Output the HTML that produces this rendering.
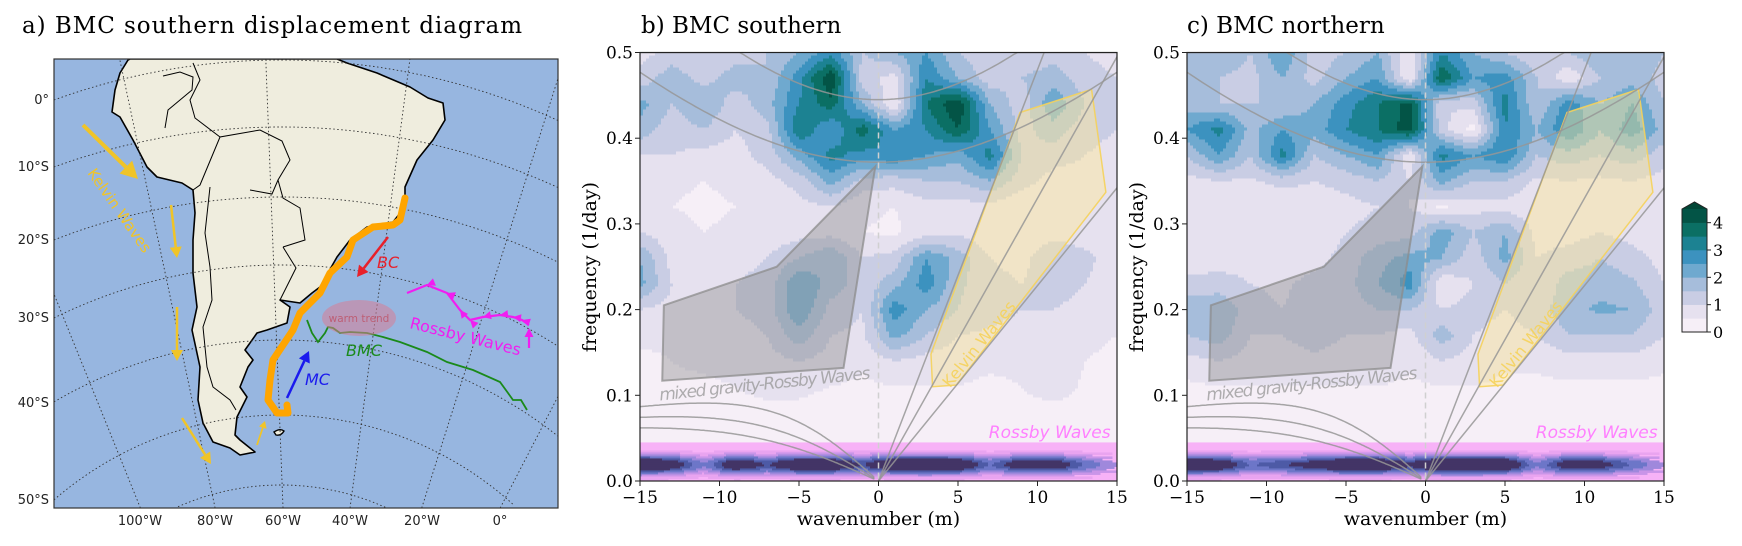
<!DOCTYPE html>
<html><head><meta charset="utf-8"><style>
html,body{margin:0;padding:0;background:#fff;width:1742px;height:546px;overflow:hidden;}
svg{display:block;}
.serif{font-family:"DejaVu Serif","Liberation Serif",serif;}
.sans{font-family:"DejaVu Sans","Liberation Sans",sans-serif;}
</style></head><body>
<svg id="fig" width="1742" height="546" viewBox="0 0 1742 546" xmlns="http://www.w3.org/2000/svg">
<defs>
<clipPath id="mapclip"><rect x="54" y="59" width="504" height="449"/></clipPath>
<clipPath id="clipb"><rect x="640" y="52" width="477" height="429"/></clipPath>
<clipPath id="clipc"><rect x="1187" y="52" width="477" height="429"/></clipPath>
</defs>
<text class="serif" x="22" y="33" font-size="23" textLength="500">a) BMC southern displacement diagram</text>
<text class="serif" x="641" y="33" font-size="23">b) BMC southern</text>
<text class="serif" x="1187" y="33" font-size="23">c) BMC northern</text>
<g id="map"></g>
<g id="pb"></g>
<g id="pc"></g>
<g id="cbar"></g>
</svg>
<script>
// ---------- DATA ----------
const wavenumbers = [-15,-13,-11,-9,-7,-5,-3,-1,1,3,5,7,9,11,13,15];
const frequencies = [0.50,0.47,0.44,0.41,0.38,0.35,0.32,0.29,0.26,0.23,0.20,0.17,0.14,0.11,0.08,0.05];
const powerSouth = [
[0.8,1.2,1.0,1.2,1.5,2.0,2.8,1.5,2.0,2.5,1.5,1.2,1.0,1.3,1.0,0.8],
[1.2,1.8,1.3,1.8,1.5,2.8,4.5,1.2,0.8,3.0,2.0,1.2,1.5,1.8,1.2,1.0],
[2.2,1.5,2.0,1.2,1.8,3.0,3.8,2.0,0.5,3.5,4.5,2.0,1.2,2.4,1.5,1.2],
[1.8,1.2,1.5,1.0,1.3,3.5,2.5,3.8,2.5,3.0,4.0,2.5,1.3,1.8,1.2,1.0],
[1.0,1.0,0.8,0.8,1.2,2.2,3.2,2.8,3.0,2.5,2.2,3.2,1.5,1.2,1.0,0.8],
[0.8,0.6,0.5,0.6,0.8,1.2,2.2,1.3,1.2,1.5,1.5,2.0,1.2,0.8,0.8,0.6],
[0.7,0.5,0.4,0.5,0.6,0.8,1.0,0.6,0.5,0.8,0.8,0.8,0.6,0.5,0.6,0.5],
[1.0,0.7,0.5,0.6,0.7,0.8,0.8,0.5,0.4,0.8,0.9,0.6,0.5,0.8,0.6,0.5],
[2.0,0.8,0.6,0.8,1.0,1.5,2.0,1.0,1.2,2.5,1.8,1.0,0.8,1.5,1.2,0.6],
[2.2,1.0,0.8,1.0,1.2,2.5,1.8,1.2,1.8,2.8,1.6,1.2,1.0,1.3,1.0,0.6],
[1.0,0.8,0.8,1.0,1.2,2.5,1.3,1.0,2.8,2.0,1.5,1.2,1.0,1.0,0.8,0.5],
[0.6,0.6,0.7,0.8,1.0,1.8,1.0,0.9,2.2,1.5,1.0,0.9,0.8,0.8,0.6,0.5],
[0.4,0.5,0.6,0.7,0.8,1.0,0.8,0.6,1.0,0.8,0.7,0.6,0.6,0.9,0.5,0.4],
[0.3,0.4,0.4,0.5,0.6,0.6,0.5,0.4,0.5,0.5,0.5,0.4,0.5,0.8,0.4,0.3],
[0.3,0.3,0.3,0.4,0.4,0.4,0.3,0.3,0.3,0.3,0.3,0.3,0.3,0.3,0.3,0.3],
[0.2,0.2,0.2,0.2,0.2,0.2,0.2,0.2,0.2,0.2,0.2,0.2,0.2,0.2,0.2,0.2]];
const powerNorth = [
[2.0,2.0,1.5,2.5,1.2,1.5,2.0,0.5,3.0,2.0,1.5,1.0,1.5,2.0,2.0,1.5],
[1.5,1.5,1.3,2.0,1.3,2.0,2.5,0.5,4.0,2.5,2.8,1.5,0.6,1.5,1.8,1.3],
[1.8,1.5,1.5,1.5,2.0,2.8,3.5,4.2,1.0,1.2,3.2,1.5,2.8,2.0,2.5,1.5],
[2.5,3.2,1.8,2.5,2.2,3.0,3.5,4.3,1.2,0.3,3.0,2.0,3.0,2.0,2.8,1.8],
[1.5,2.5,1.5,3.2,1.5,2.0,2.5,0.6,3.2,2.5,3.0,1.5,1.8,1.5,1.8,1.2],
[0.8,1.0,0.9,1.2,1.0,1.2,1.5,1.0,2.2,1.5,1.5,0.9,1.0,0.9,1.0,0.8],
[0.6,0.7,0.5,0.5,0.6,0.8,1.0,1.0,0.4,0.8,0.8,0.6,0.7,0.8,0.7,0.5],
[0.5,0.8,0.6,0.5,0.6,1.0,1.2,1.3,2.3,1.5,2.0,0.8,0.8,1.0,0.8,0.6],
[0.6,0.8,0.8,0.6,0.8,1.2,1.8,2.2,2.0,1.2,2.2,1.0,1.2,1.5,1.2,0.8],
[1.2,1.2,1.0,0.9,1.2,1.3,2.0,2.8,0.5,1.0,1.5,1.0,1.8,1.8,1.6,1.0],
[1.8,2.0,1.2,1.0,1.3,1.2,1.5,1.5,1.0,1.2,1.0,1.3,1.8,2.1,2.0,1.2],
[1.5,1.8,1.0,1.0,1.2,1.0,1.0,0.8,1.8,1.0,0.8,1.0,1.5,1.5,1.5,1.0],
[0.8,1.0,0.8,0.8,0.9,0.8,0.8,0.6,1.0,0.8,0.6,0.6,0.8,0.8,0.8,0.6],
[0.4,0.5,0.5,0.5,0.5,0.5,0.5,0.4,0.5,0.5,0.4,0.4,0.4,0.4,0.4,0.4],
[0.3,0.3,0.3,0.3,0.3,0.3,0.3,0.3,0.3,0.3,0.3,0.3,0.3,0.3,0.3,0.3],
[0.2,0.2,0.2,0.2,0.2,0.2,0.2,0.2,0.2,0.2,0.2,0.2,0.2,0.2,0.2,0.2]];
const lowBandSouth = [4.5,3.8,2.0,4.0,3.0,4.2,4.2,3.0,4.3,4.5,4.2,2.5,3.8,3.8,2.5,1.5];
const lowBandNorth = [4.2,4.0,2.5,3.0,3.5,4.3,4.3,3.2,4.5,4.5,4.3,2.0,3.8,3.5,2.5,1.5];
const mrgPolyK = [-13.5,-6.4,-0.2,-2.2,-13.6];
const mrgPolyF = [0.205,0.25,0.367,0.132,0.117];
const kelvinPolyK = [8.9,13.4,14.3,4.9,3.4,3.3];
const kelvinPolyF = [0.43,0.457,0.337,0.112,0.11,0.148];
const kelvinSlopes = [0.048,0.033,0.0228];
const igMinFreq = [0.445,0.372];
const igEdgeK = [8.7,15];
const igEdgeF = [0.5,0.477];
const rossbyA = [2.0,1.95,1.86];
const rossbyB = [121,169,225];
const xTicks = [-15,-10,-5,0,5,10,15];
const yTicks = [0,0.1,0.2,0.3,0.4,0.5];
const levelColors = ['#f6eff7','#e6e1ef','#c9cde4','#a6bddb','#6fa9cf','#3c92bf','#1c8292','#0b6f64','#035446','#014636'];
const cbarTicks = [0,1,2,3,4];

const NS='http://www.w3.org/2000/svg';
function el(tag, attrs, parent){const e=document.createElementNS(NS,tag);for(const k in attrs)e.setAttribute(k,attrs[k]);if(parent)parent.appendChild(e);return e;}

// ---------- SPECTRAL PANELS ----------
const W=477, yBot=481, yTop=52.5;
function ys(f){return yBot-(f/0.5)*(yBot-yTop);}
function interpGrid(grid,k,f){
  let cj=(k-wavenumbers[0])/(wavenumbers[1]-wavenumbers[0]);
  let ri=(frequencies[0]-f)/(frequencies[0]-frequencies[1]);
  cj=Math.max(0,Math.min(wavenumbers.length-1,cj));ri=Math.max(0,Math.min(frequencies.length-1,ri));
  const j0=Math.min(Math.floor(cj),wavenumbers.length-2),i0=Math.min(Math.floor(ri),frequencies.length-2);
  const tx=cj-j0,ty=ri-i0;
  const a=grid[i0][j0],b=grid[i0][j0+1],c=grid[i0+1][j0],d=grid[i0+1][j0+1];
  return (a*(1-tx)+b*tx)*(1-ty)+(c*(1-tx)+d*tx)*ty;
}
function interpRow(row,k){
  let cj=(k-wavenumbers[0])/(wavenumbers[1]-wavenumbers[0]);
  cj=Math.max(0,Math.min(row.length-1,cj));
  const j0=Math.min(Math.floor(cj),row.length-2),t=cj-j0;
  return row[j0]*(1-t)+row[j0+1]*t;
}
function lowColor(v){
  if(v<0.5)return '#f7b2f7';if(v<1.0)return '#e9a4f0';if(v<1.5)return '#c995e8';
  if(v<2.0)return '#9f88dc';if(v<2.6)return '#6d76c8';if(v<3.1)return '#4d5aa6';return '#433466';
}
function drawPanel(g,x0,grid,lowB,clipId,showYLabels,tag){
  const xs=k=>x0+(k+15)/30*W;
  const fieldG=el('g',{'clip-path':'url(#'+clipId+')'},g);
  
  
  const step=3;
  for(let y=yTop;y<ys(0.045);y+=step){
    const f=(yBot-(y+step/2))/(yBot-yTop)*0.5;
    let runStart=x0,runCol=null;
    for(let x=x0;x<x0+W;x+=step){
      const k=((x+step/2)-x0)/W*30-15;
      const v=interpGrid(grid,k,f);
      const col=levelColors[Math.max(0,Math.min(9,Math.floor(v/0.5)))];
      if(col!==runCol){
        if(runCol){const r=el('rect',{x:runStart,y:y,width:x-runStart+0.6,height:step+0.6,fill:runCol},fieldG);
          
          }
        runStart=x;runCol=col;
      }
    }
    const r=el('rect',{x:runStart,y:y,width:x0+W-runStart,height:step+0.6,fill:runCol},fieldG);
    
    
  }
  const lowG=el('g',{'clip-path':'url(#'+clipId+')'},g);
  
  
  el('rect',{x:x0,y:ys(0.045),width:W,height:ys(0)-ys(0.045),fill:'#f7b2f7'},lowG);
  for(let y=ys(0.045);y<yBot-1;y+=2){
    const f=(yBot-(y+1))/(yBot-yTop)*0.5;
    let runStart=x0,runCol=null;
    for(let x=x0;x<x0+W;x+=2){
      const k=((x+1)-x0)/W*30-15;
      const v=interpRow(lowB,k)*Math.exp(-Math.pow((f-0.019)/0.012,2));
      const col=lowColor(v);
      if(col!==runCol){
        if(runCol&&runCol!=='#f7b2f7'){const r=el('rect',{x:runStart,y:y,width:x-runStart+0.5,height:2.5,fill:runCol},lowG);
          
          }
        runStart=x;runCol=col;
      }
    }
  }
  const ov=el('g',{'clip-path':'url(#'+clipId+')'},g);
  const mp=el('polygon',{points:mrgPolyK.map((k,i)=>xs(k)+','+ys(mrgPolyF[i])).join(' '),fill:'rgba(150,150,150,0.45)',stroke:'rgba(140,140,140,0.75)','stroke-width':2},ov);
  
  
  const kp=el('polygon',{points:kelvinPolyK.map((k,i)=>xs(k)+','+ys(kelvinPolyF[i])).join(' '),fill:'rgba(255,232,150,0.45)',stroke:'rgba(245,210,90,0.9)','stroke-width':1.5},ov);
  
  
  const lc='rgba(150,150,150,0.85)';
  igMinFreq.forEach((f0,i)=>{
    const a=(igEdgeF[i]*igEdgeF[i]-f0*f0)/(igEdgeK[i]*igEdgeK[i]);
    let d='';for(let k=-15;k<=15.01;k+=0.25){const f=Math.min(0.5,Math.sqrt(f0*f0+a*k*k));d+=(d?'L':'M')+xs(k).toFixed(1)+','+ys(f).toFixed(1);}
    const p=el('path',{d:d,fill:'none',stroke:lc,'stroke-width':1.5},ov);
    
    
  });
  kelvinSlopes.forEach(s=>{
    const kEnd=Math.min(15,0.5/s);
    const p=el('line',{x1:xs(0),y1:ys(0),x2:xs(kEnd),y2:ys(kEnd*s),stroke:lc,'stroke-width':1.5},ov);
    
    
  });
  rossbyA.forEach((A,i)=>{
    let d='';for(let k=-15;k<=-0.3;k+=0.1){const f=-A*k/(k*k+rossbyB[i]);d+=(d?'L':'M')+xs(k).toFixed(1)+','+ys(f).toFixed(1);}
    d+='L'+xs(-0.3).toFixed(1)+','+ys(0.002).toFixed(1);
    const p=el('path',{d:d,fill:'none',stroke:lc,'stroke-width':1.5},ov);
    
    
  });
  const dl=el('line',{x1:xs(0),y1:yTop,x2:xs(0),y2:yBot,stroke:'#d0d0d0','stroke-width':1.5,'stroke-dasharray':'6,4'},ov);
  
  
  const t1=el('text',{x:xs(-13.75),y:ys(0.094),'font-size':17,'font-style':'italic',fill:'rgba(150,150,150,0.75)','class':'sans',textLength:212,transform:'rotate(-5.9 '+xs(-13.75)+' '+ys(0.094)+')'},ov);
  t1.textContent='mixed gravity-Rossby Waves';
  
  
  const kx=xs(4.5),ky=ys(0.108);
  const t2=el('text',{x:kx,y:ky,'font-size':16,fill:'rgba(245,210,90,0.9)','class':'sans',transform:'rotate(-51 '+kx+' '+ky+')'},ov);
  t2.textContent='Kelvin Waves';
  
  
  const t3=el('text',{x:xs(14.6),y:438,'font-size':17,'font-style':'italic',fill:'#ff80ff','class':'sans','text-anchor':'end'},ov);
  t3.textContent='Rossby Waves';
  
  
  el('rect',{x:x0,y:yTop,width:W,height:yBot-yTop,fill:'none',stroke:'#222','stroke-width':1.2},g);
  xTicks.forEach(k=>{
    el('line',{x1:xs(k),y1:yBot,x2:xs(k),y2:yBot+5,stroke:'#222'},g);
    const t=el('text',{x:xs(k),y:503,'font-size':17,'text-anchor':'middle','class':'serif'},g);
    t.textContent=(k<0?'\u2212'+(-k):''+k);
    
    
  });
  yTicks.forEach(f=>{
    el('line',{x1:x0,y1:ys(f),x2:x0-5,y2:ys(f),stroke:'#222'},g);
    if(showYLabels){const t=el('text',{x:x0-7,y:ys(f)+6,'font-size':17,'text-anchor':'end','class':'serif'},g);
      t.textContent=f.toFixed(1);
      
      }
  });
  const xl=el('text',{x:x0+W/2,y:525,'font-size':19,'text-anchor':'middle','class':'serif'},g);
  xl.textContent='wavenumber (m)';
  
  
  const yl=el('text',{x:0,y:0,'font-size':19,'text-anchor':'middle','class':'serif',transform:'translate('+(x0-44)+',267) rotate(-90)'},g);
  yl.textContent='frequency (1/day)';
  
  
}
drawPanel(document.getElementById('pb'),640,powerSouth,lowBandSouth,'clipb',true,'southern');
drawPanel(document.getElementById('pc'),1187,powerNorth,lowBandNorth,'clipc',true,'northern');

// ---------- COLORBAR ----------
(function(){
  const g=document.getElementById('cbar');
  const cx=1682,cw=25,cTop=209,cBot=332,vmax=4.5;
  const cy=v=>cBot-(v/vmax)*(cBot-cTop);
  for(let i=0;i<9;i++){
    const r=el('rect',{x:cx,y:cy((i+1)*0.5),width:cw,height:cy(i*0.5)-cy((i+1)*0.5)+0.3,fill:levelColors[i]},g);
    
    
  }
  el('polygon',{points:`${cx},${cTop} ${cx+cw/2},${cTop-7} ${cx+cw},${cTop}`,fill:levelColors[9]},g);
  el('polygon',{points:`${cx},${cTop} ${cx},${cBot} ${cx+cw},${cBot} ${cx+cw},${cTop} ${cx+cw/2},${cTop-7}`,fill:'none',stroke:'#222','stroke-width':1},g);
  cbarTicks.forEach(v=>{
    el('line',{x1:cx+cw,y1:cy(v),x2:cx+cw+4,y2:cy(v),stroke:'#222'},g);
    const t=el('text',{x:cx+cw+6,y:cy(v)+6,'font-size':16,'class':'serif'},g);
    t.textContent=v;
    
    
  });
})();

// ---------- MAP ----------
(function(){
  const g=document.getElementById('map');
  const cg=el('g',{'clip-path':'url(#mapclip)'},g);
  el('rect',{x:54,y:59,width:504,height:449,fill:'#97b6e0'},cg);
  const land=[[128,60],[120,73],[115,90],[112,112],[120,117],[133,140],[147,167],[157,177],[182,183],[193,190],[195,213],[193,240],[193,273],[197,307],[192,330],[200,367],[198,400],[203,423],[213,442],[230,448],[240,455],[255,452],[240,440],[235,435],[237,417],[247,397],[240,387],[248,367],[253,360],[245,350],[257,333],[267,330],[287,323],[290,307],[280,300],[300,303],[312,293],[320,287],[337,257],[350,240],[367,227],[393,222],[405,207],[405,187],[417,160],[433,140],[445,120],[443,103],[428,98],[410,87],[377,73],[347,63],[337,59],[130,59]];
  const lp=el('polygon',{points:land.map(p=>p.join(',')).join(' '),fill:'#efedde',stroke:'#000','stroke-width':1.6,'stroke-linejoin':'round'},cg);
  
  
  el('path',{d:'M274,432 q6,-4 10,-1 q-3,5 -8,4 z',fill:'#efedde',stroke:'#000','stroke-width':1.4},cg);
  const borders=['M210,187 L205,233 L210,267 L212,300 L203,327 L207,367 L213,387 L230,400 L236,410',
    'M163,76 L180,72 L193,77 L192,90 L168,110 L165,128',
    'M193,190 L200,185 L220,137 L260,130 L282,141 L290,160 L278,180 L283,198 L300,208 L305,240 L283,247',
    'M220,137 L195,118 L190,100 L200,80 L193,63',
    'M250,190 L272,194 L278,180',
    'M283,247 L296,268 L280,300'];
  borders.forEach(d=>{const b=el('path',{d:d,fill:'none',stroke:'#000','stroke-width':1},cg);
    
    });
  const lats=[[724,664],[791,664],[818,621],[778,513],[787,447],[761,346],[740,255]];
  lats.forEach(c=>{
    const pts=[];
    for(let x=54;x<=558;x+=4){const dx=x-281;if(Math.abs(dx)>c[1])continue;const y=c[0]-Math.sqrt(c[1]*c[1]-dx*dx);if(y>=59&&y<=508)pts.push(x+','+y.toFixed(1));}
    if(pts.length<2)return;
    const e=el('polyline',{points:pts.join(' '),fill:'none',stroke:'#333','stroke-width':0.9,'stroke-dasharray':'1.5,2.5'},cg);
    
    });
  [-32,-22,-12,-2.2,7.6,17.6,27.4,37.3].forEach(a=>{const t=Math.tan(a*Math.PI/180);
    const xb=298+t*(898-508),xt=298+t*(898-59);
    const e=el('line',{x1:xb,y1:508,x2:xt,y2:59,stroke:'#333','stroke-width':0.9,'stroke-dasharray':'1.5,2.5'},cg);
    
    });
  function arrow(x1,y1,x2,y2,col,w,hl,hw,name){
    const a=Math.atan2(y2-y1,x2-x1),bx=x2-hl*Math.cos(a),by=y2-hl*Math.sin(a);
    const gg=el('g',{},cg);
    
    
    el('line',{x1:x1,y1:y1,x2:bx,y2:by,stroke:col,'stroke-width':w},gg);
    el('polygon',{points:`${x2},${y2} ${bx-hw*Math.sin(a)},${by+hw*Math.cos(a)} ${bx+hw*Math.sin(a)},${by-hw*Math.cos(a)}`,fill:col},gg);
  }
  const gold='#f0c428';
  arrow(83,125,138,179,gold,4,17,9,'kelvin-arrow');
  arrow(171,205,177,258,gold,2.5,11,6,'kelvin-arrow');
  arrow(177,307,177,361,gold,2.5,11,6,'kelvin-arrow');
  arrow(182,418,211,464,gold,2.5,11,6,'kelvin-arrow');
  arrow(257,445,265,421,gold,1.8,7,4,'kelvin-arrow');
  const kt=el('text',{x:87,y:173,'font-size':15,fill:gold,'class':'sans',transform:'rotate(55 87 173)'},cg);
  kt.textContent='Kelvin Waves';
  
  
  const bmc=[[307,320],[312,333],[318,342],[325,333],[328,327],[333,328],[340,333],[350,332],[367,333],[383,337],[400,342],[427,352],[447,362],[473,370],[500,382],[508,393],[513,400],[521,400],[527,410]];
  const gl=el('polyline',{points:bmc.map(p=>p.join(',')).join(' '),fill:'none',stroke:'#1a8a1a','stroke-width':1.8},cg);
  
  
  const wt=el('ellipse',{cx:359,cy:318,rx:37,ry:18,fill:'rgba(215,125,150,0.55)'},cg);
  
  
  const wtt=el('text',{x:359,y:322,'font-size':10.5,fill:'rgba(190,80,100,0.8)','text-anchor':'middle','class':'sans'},cg);
  wtt.textContent='warm trend';
  
  
  const bc=[[405,198],[400,220],[393,225],[373,227],[353,240],[347,257],[330,273],[320,293],[300,313],[293,330],[273,360],[270,380],[268,400],[277,413],[288,413],[287,405]];
  const ol=el('polyline',{points:bc.map(p=>p.join(',')).join(' '),fill:'none',stroke:'#ffa500','stroke-width':7,'stroke-linejoin':'round','stroke-linecap':'round'},cg);
  
  
  arrow(388,237,357,277,'#e8202a',2.5,11,6,'bc-arrow');
  const bct=el('text',{x:377,y:268,'font-size':16,'font-style':'italic',fill:'#e8202a','class':'sans'},cg);
  bct.textContent='BC';
  
  
  arrow(287,398,309,351,'#1a1aee',2.5,11,6,'mc-arrow');
  const mct=el('text',{x:305,y:385,'font-size':16,'font-style':'italic',fill:'#1a1aee','class':'sans'},cg);
  mct.textContent='MC';
  
  
  const bmt=el('text',{x:346,y:356,'font-size':16,'font-style':'italic',fill:'#1a8a1a','class':'sans'},cg);
  bmt.textContent='BMC';
  
  
  const rc=[[407,293],[427,285],[447,293],[460,310],[470,320],[483,317],[500,315],[513,317],[522,320],[529,325]];
  const rl=el('polyline',{points:rc.map(p=>p.join(',')).join(' '),fill:'none',stroke:'#f01ef0','stroke-width':2.2},cg);
  
  
  for(let i=1;i<rc.length-1;i++){
    const a=Math.atan2(rc[i-1][1]-rc[i][1],rc[i-1][0]-rc[i][0]);const x=rc[i][0],y=rc[i][1];
    const bx=x-8*Math.cos(a),by=y-8*Math.sin(a);
    const h=el('polygon',{points:`${x},${y} ${bx-4*Math.sin(a)},${by+4*Math.cos(a)} ${bx+4*Math.sin(a)},${by-4*Math.cos(a)}`,fill:'#f01ef0'},cg);
    
    
  }
  arrow(529,348,529,328,'#f01ef0',2.2,9,4.5,'rossby-arrow');
  const rt=el('text',{x:409,y:328,'font-size':16,fill:'#f01ef0','class':'sans',transform:'rotate(14 409 328)'},cg);
  rt.textContent='Rossby Waves';
  
  
  el('rect',{x:54,y:59,width:504,height:449,fill:'none',stroke:'#333','stroke-width':1.2},g);
  const latL=[['0°',104],['10°S',171],['20°S',244],['30°S',322],['40°S',407],['50°S',504]];
  latL.forEach(l=>{const t=el('text',{x:49,y:l[1],'font-size':13,'text-anchor':'end','class':'sans',fill:'#222'},g);
    t.textContent=l[0];
    
    });
  const lonL=[['100°W',140],['80°W',215],['60°W',283],['40°W',350],['20°W',422],['0°',500]];
  lonL.forEach(l=>{const t=el('text',{x:l[1],y:525,'font-size':13,'text-anchor':'middle','class':'sans',fill:'#222'},g);
    t.textContent=l[0];
    
    });
})();
</script>
</body></html>
